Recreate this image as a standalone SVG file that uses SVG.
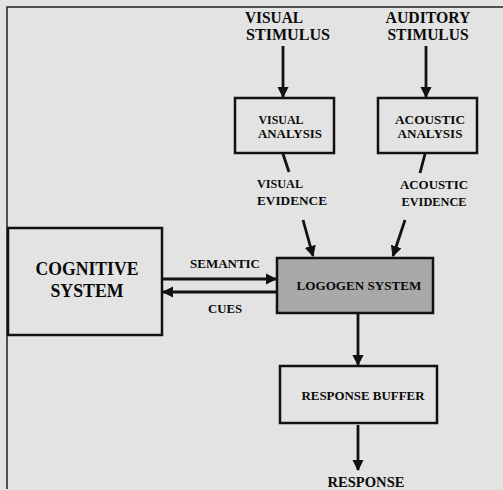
<svg xmlns="http://www.w3.org/2000/svg" width="503" height="490" viewBox="0 0 503 490">
<defs>
<style>
text{font-family:"Liberation Serif","Times New Roman",serif;font-weight:bold;fill:#0a0a0a;text-anchor:middle}
.box{fill:none;stroke:#111;stroke-width:2.5}
.ln{stroke:#111;stroke-width:2.8;fill:none}
.lbl{font-size:13px}
.big{font-size:18px}
.top{font-size:16px}
</style>
<marker id="ah" viewBox="0 0 10 10" refX="9" refY="5" markerWidth="4" markerHeight="4" orient="auto" markerUnits="strokeWidth">
<path d="M0,0 L10,5 L0,10 z" fill="#111"/>
</marker>
</defs>
<rect x="0" y="0" width="503" height="490" fill="#e3e3e3"/>
<path d="M7,489 V7 H503" fill="none" stroke="#222" stroke-width="1.5"/>

<g id="visual-stimulus">
<text class="top" x="274" y="23" textLength="58" lengthAdjust="spacingAndGlyphs">VISUAL</text>
<text class="top" x="288" y="40" textLength="84" lengthAdjust="spacingAndGlyphs">STIMULUS</text>
</g>
<g id="auditory-stimulus">
<text class="top" x="428" y="23" textLength="85" lengthAdjust="spacingAndGlyphs">AUDITORY</text>
<text class="top" x="428" y="40" textLength="81" lengthAdjust="spacingAndGlyphs">STIMULUS</text>
</g>
<g id="visual-analysis">
<rect class="box" x="235" y="98" width="99" height="55"/>
<text class="lbl" x="281" y="124" textLength="45" lengthAdjust="spacingAndGlyphs">VISUAL</text>
<text class="lbl" x="290" y="138" textLength="64" lengthAdjust="spacingAndGlyphs">ANALYSIS</text>
</g>
<g id="acoustic-analysis">
<rect class="box" x="378" y="98" width="99" height="55"/>
<text class="lbl" x="430" y="124" textLength="70" lengthAdjust="spacingAndGlyphs">ACOUSTIC</text>
<text class="lbl" x="430" y="138" textLength="65" lengthAdjust="spacingAndGlyphs">ANALYSIS</text>
</g>
<g id="visual-evidence">
<text class="lbl" x="280" y="188" textLength="46" lengthAdjust="spacingAndGlyphs">VISUAL</text>
<text class="lbl" x="292" y="205" textLength="70" lengthAdjust="spacingAndGlyphs">EVIDENCE</text>
</g>
<g id="acoustic-evidence">
<text class="lbl" x="434" y="189" textLength="68" lengthAdjust="spacingAndGlyphs">ACOUSTIC</text>
<text class="lbl" x="434" y="206" textLength="65" lengthAdjust="spacingAndGlyphs">EVIDENCE</text>
</g>
<g id="cognitive-system">
<rect class="box" x="8" y="228" width="154" height="107"/>
<text class="big" x="87" y="275" textLength="103" lengthAdjust="spacingAndGlyphs">COGNITIVE</text>
<text class="big" x="87" y="297" textLength="73" lengthAdjust="spacingAndGlyphs">SYSTEM</text>
</g>
<g id="logogen-system">
<rect x="277" y="258" width="156" height="55" fill="#a9a9a9" stroke="#111" stroke-width="2.5"/>
<text class="lbl" x="359" y="290" textLength="125" lengthAdjust="spacingAndGlyphs">LOGOGEN SYSTEM</text>
</g>
<g id="response-buffer">
<rect class="box" x="280" y="366" width="157" height="57"/>
<text class="lbl" x="363" y="400" textLength="123" lengthAdjust="spacingAndGlyphs">RESPONSE BUFFER</text>
</g>
<g id="response">
<text style="font-size:14px" x="366" y="487" textLength="77" lengthAdjust="spacingAndGlyphs">RESPONSE</text>
</g>
<g id="connectors">
<line class="ln" x1="283" y1="46" x2="283" y2="97" marker-end="url(#ah)"/>
<line class="ln" x1="426" y1="46" x2="426" y2="97" marker-end="url(#ah)"/>
<line class="ln" x1="283" y1="154" x2="289" y2="172"/>
<line class="ln" x1="425" y1="154" x2="420" y2="173"/>
<line class="ln" x1="303" y1="220" x2="313" y2="256" marker-end="url(#ah)"/>
<line class="ln" x1="405" y1="220" x2="393" y2="256" marker-end="url(#ah)"/>
<line class="ln" x1="163" y1="279" x2="276" y2="279" marker-end="url(#ah)"/>
<line class="ln" x1="276" y1="292" x2="163" y2="292" marker-end="url(#ah)"/>
<text class="lbl" x="225" y="268" textLength="70" lengthAdjust="spacingAndGlyphs">SEMANTIC</text>
<text class="lbl" x="225" y="313" textLength="34" lengthAdjust="spacingAndGlyphs">CUES</text>
<line class="ln" x1="358" y1="314" x2="358" y2="365" marker-end="url(#ah)"/>
<line class="ln" x1="358" y1="425" x2="358" y2="470" marker-end="url(#ah)"/>
</g>
</svg>
